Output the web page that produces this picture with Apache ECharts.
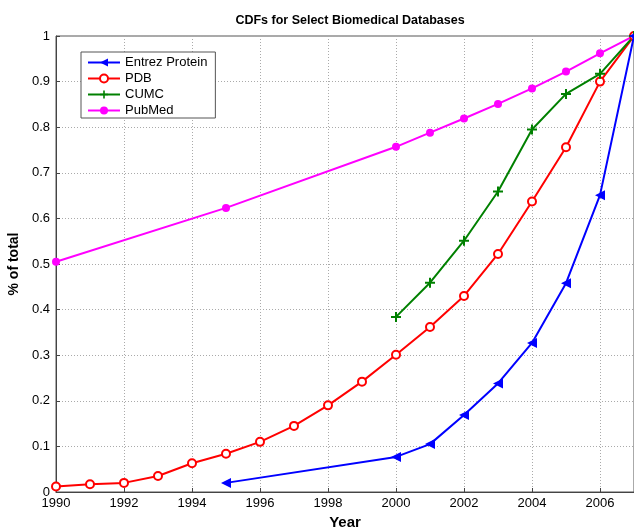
<!DOCTYPE html>
<html><head><meta charset="utf-8">
<script src="https://cdn.jsdelivr.net/npm/echarts@6/dist/echarts.min.js"></script>
<style>html,body{margin:0;padding:0;background:#fff}#c{width:634px;height:528px}</style>
</head><body><div id="c"></div>
<script>
const entrezYears = [1995, 2000, 2001, 2002, 2003, 2004, 2005, 2006, 2007];
const entrezValues = [0.020, 0.077, 0.105, 0.169, 0.238, 0.327, 0.458, 0.651, 1.0];
const pdbYears = [1990,1991,1992,1993,1994,1995,1996,1997,1998,1999,2000,2001,2002,2003,2004,2005,2006,2007];
const pdbValues = [0.012,0.017,0.020,0.035,0.063,0.084,0.110,0.145,0.190,0.242,0.301,0.362,0.430,0.522,0.637,0.756,0.900,1.0];
const cumcYears = [2000,2001,2002,2003,2004,2005,2006,2007];
const cumcValues = [0.384,0.459,0.551,0.659,0.795,0.873,0.917,1.0];
const pubmedYears = [1990,1995,2000,2001,2002,2003,2004,2005,2006,2007];
const pubmedValues = [0.505,0.623,0.757,0.788,0.819,0.851,0.885,0.922,0.962,1.0];
const xTicks = [1990,1992,1994,1996,1998,2000,2002,2004,2006];

const pair = (xs, ys) => xs.map((x, i) => [x, ys[i]]);
const font = 'Liberation Sans, Arial, sans-serif';
const plus = 'path://M4,0h2v4h4v2h-4v4h-2v-4h-4v-2h4z';

const chart = echarts.init(document.getElementById('c'), null, {renderer: 'canvas'});
chart.setOption({
  animation: false,
  backgroundColor: '#fff',
  title: {text: 'CDFs for Select Biomedical Databases', left: 345, top: 9, textAlign: 'center',
    textStyle: {fontFamily: font, fontWeight: 'bold', fontSize: 12.5, color: '#000'}},
  grid: {left: 56, right: 0, top: 36, bottom: 36, containLabel: false, outerBoundsMode: 'none',
    show: true, borderColor: '#555', borderWidth: 1, backgroundColor: 'transparent'},
  legend: {
    orient: 'vertical', left: 81, top: 52, itemWidth: 32, itemHeight: 10, itemGap: 3,
    padding: [4, 8, 1, 6],
    backgroundColor: '#fff', borderColor: '#555', borderWidth: 1, borderRadius: 0,
    textStyle: {fontFamily: font, fontSize: 13, color: '#000'},
    data: ['Entrez Protein', 'PDB', 'CUMC', 'PubMed']
  },
  xAxis: {
    type: 'value', min: 1990, max: 2007, interval: 2,
    name: 'Year', nameLocation: 'middle', nameGap: 23,
    nameTextStyle: {fontFamily: font, fontWeight: 'bold', fontSize: 15, color: '#000'},
    axisLine: {show: true, onZero: false, lineStyle: {color: '#444'}},
    axisTick: {inside: true, length: 4, lineStyle: {color: '#444'}},
    axisLabel: {fontFamily: font, fontSize: 13, color: '#000', margin: 5, showMaxLabel: false,
      formatter: v => (xTicks.indexOf(v) >= 0 ? String(v) : '')},
    splitLine: {show: true, lineStyle: {color: '#aaa', type: [1, 2], width: 1}}
  },
  yAxis: {
    type: 'value', min: 0, max: 1, interval: 0.1,
    name: '% of total', nameLocation: 'middle', nameGap: 31, nameRotate: 90,
    nameTextStyle: {fontFamily: font, fontWeight: 'bold', fontSize: 14, color: '#000'},
    axisLine: {show: true, lineStyle: {color: '#444'}},
    axisTick: {inside: true, length: 4, lineStyle: {color: '#444'}},
    axisLabel: {fontFamily: font, fontSize: 13, color: '#000', margin: 6,
      formatter: v => String(Math.round(v * 10) / 10)},
    splitLine: {show: true, lineStyle: {color: '#aaa', type: [1, 2], width: 1}}
  },
  series: [
    {name: 'Entrez Protein', type: 'line', data: pair(entrezYears, entrezValues),
      color: '#0000ff', lineStyle: {width: 2}, symbol: 'triangle', symbolRotate: 90, symbolSize: 10,
      itemStyle: {color: '#0000ff'}, z: 4},
    {name: 'PDB', type: 'line', data: pair(pdbYears, pdbValues),
      color: '#ff0000', lineStyle: {width: 2}, symbol: 'emptyCircle', symbolSize: 8,
      itemStyle: {color: '#ff0000', borderColor: '#ff0000', borderWidth: 1.5}, z: 3},
    {name: 'CUMC', type: 'line', data: pair(cumcYears, cumcValues),
      color: '#008000', lineStyle: {width: 2}, symbol: plus, symbolSize: 10,
      itemStyle: {color: '#008000'}, z: 3},
    {name: 'PubMed', type: 'line', data: pair(pubmedYears, pubmedValues),
      color: '#ff00ff', lineStyle: {width: 2}, symbol: 'circle', symbolSize: 8,
      itemStyle: {color: '#ff00ff'}, z: 2}
  ]
});
</script></body></html>
